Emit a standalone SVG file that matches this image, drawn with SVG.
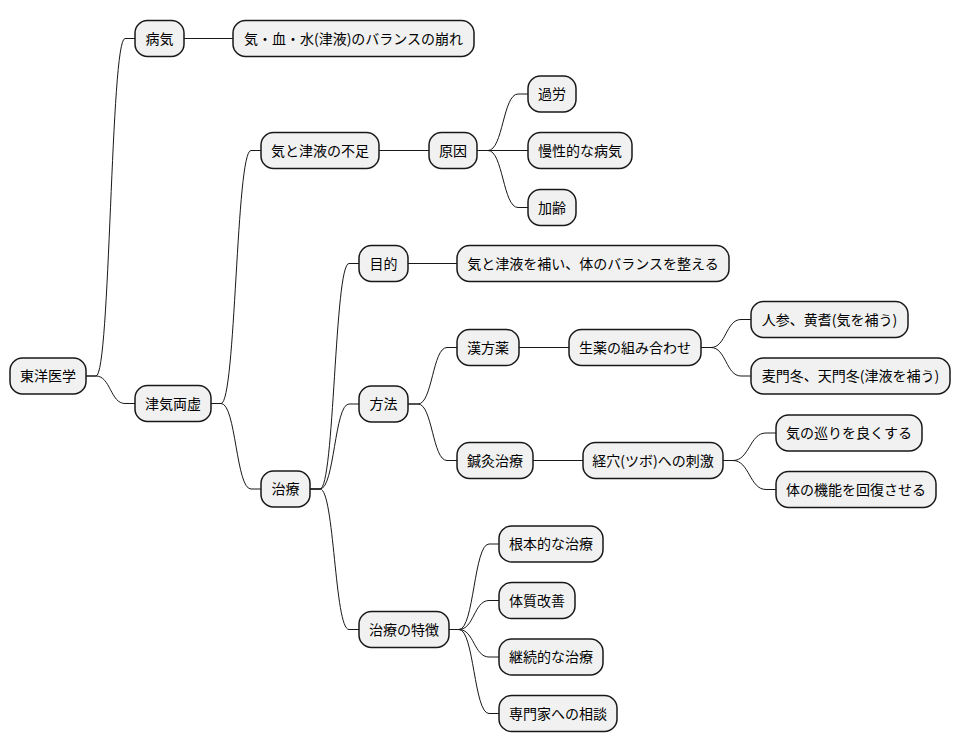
<svg xmlns="http://www.w3.org/2000/svg" width="961" height="752" viewBox="0 0 961 752">
<style>
.n rect{fill:#F1F1F1;stroke:#181818;stroke-width:1.5}
.n text{font-family:"Noto Sans CJK JP","Noto Sans",sans-serif;font-size:14px;fill:#000;text-anchor:middle}
#edges path{fill:none;stroke:#181818;stroke-width:1}
</style>
<rect width="961" height="752" fill="#FFFFFF"/>
<g id="edges">
<path d="M86,376 L96,376 C110.5,376 110.5,38.5 125,38.5 L135,38.5"/>
<path d="M86,376 L96,376 C110.5,376 110.5,403.5 125,403.5 L135,403.5"/>
<path d="M184,38.5 L233,38.5"/>
<path d="M211,403.5 L221,403.5 C236,403.5 236,150.5 251,150.5 L261,150.5"/>
<path d="M211,403.5 L221,403.5 C236,403.5 236,489 251,489 L261,489"/>
<path d="M379,150.5 L429,150.5"/>
<path d="M477,150.5 L488,150.5 C503,150.5 503,94 518,94 L528,94"/>
<path d="M477,150.5 L528,150.5"/>
<path d="M477,150.5 L488,150.5 C503,150.5 503,207.5 518,207.5 L528,207.5"/>
<path d="M310,489 L320,489 C334.5,489 334.5,263.5 349,263.5 L359,263.5"/>
<path d="M310,489 L320,489 C334.5,489 334.5,404 349,404 L359,404"/>
<path d="M310,489 L320,489 C334.5,489 334.5,629.5 349,629.5 L359,629.5"/>
<path d="M408,263.5 L457,263.5"/>
<path d="M408,404 L418,404 C432.5,404 432.5,347.5 447,347.5 L457,347.5"/>
<path d="M408,404 L418,404 C432.5,404 432.5,460.5 447,460.5 L457,460.5"/>
<path d="M519,347.5 L569,347.5"/>
<path d="M533,460.5 L583,460.5"/>
<path d="M701,347.5 L711,347.5 C726,347.5 726,319.5 741,319.5 L751,319.5"/>
<path d="M701,347.5 L711,347.5 C726,347.5 726,376 741,376 L751,376"/>
<path d="M723,460.5 L733,460.5 C749.5,460.5 749.5,433 766,433 L776,433"/>
<path d="M723,460.5 L733,460.5 C749.5,460.5 749.5,489.5 766,489.5 L776,489.5"/>
<path d="M449,629.5 L459,629.5 C474,629.5 474,544 489,544 L499,544"/>
<path d="M449,629.5 L459,629.5 C474,629.5 474,600.5 489,600.5 L499,600.5"/>
<path d="M449,629.5 L459,629.5 C474,629.5 474,657 489,657 L499,657"/>
<path d="M449,629.5 L459,629.5 C474,629.5 474,713.5 489,713.5 L499,713.5"/>
</g>
<g id="n0" class="n"><rect x="10" y="358" width="76" height="36" rx="12.5"/><text x="48" y="381">東洋医学</text></g>
<g id="n1" class="n"><rect x="135" y="20.5" width="49" height="36" rx="12.5"/><text x="159.5" y="43.5">病気</text></g>
<g id="n2" class="n"><rect x="233" y="20.5" width="241" height="36" rx="12.5"/><text x="353.5" y="43.5">気・血・水(津液)のバランスの崩れ</text></g>
<g id="n3" class="n"><rect x="135" y="385.5" width="76" height="36" rx="12.5"/><text x="173" y="408.5">津気両虚</text></g>
<g id="n4" class="n"><rect x="261" y="132.5" width="118" height="36" rx="12.5"/><text x="320" y="155.5">気と津液の不足</text></g>
<g id="n5" class="n"><rect x="429" y="132.5" width="48" height="36" rx="12.5"/><text x="453" y="155.5">原因</text></g>
<g id="n6" class="n"><rect x="528" y="76" width="48" height="36" rx="12.5"/><text x="552" y="99">過労</text></g>
<g id="n7" class="n"><rect x="528" y="132.5" width="104" height="36" rx="12.5"/><text x="580" y="155.5">慢性的な病気</text></g>
<g id="n8" class="n"><rect x="528" y="189.5" width="48" height="36" rx="12.5"/><text x="552" y="212.5">加齢</text></g>
<g id="n9" class="n"><rect x="261" y="471" width="49" height="36" rx="12.5"/><text x="285.5" y="494">治療</text></g>
<g id="n10" class="n"><rect x="359" y="245.5" width="49" height="36" rx="12.5"/><text x="383.5" y="268.5">目的</text></g>
<g id="n11" class="n"><rect x="457" y="245.5" width="272" height="36" rx="12.5"/><text x="593" y="268.5">気と津液を補い、体のバランスを整える</text></g>
<g id="n12" class="n"><rect x="359" y="386" width="49" height="36" rx="12.5"/><text x="383.5" y="409">方法</text></g>
<g id="n13" class="n"><rect x="457" y="329.5" width="62" height="36" rx="12.5"/><text x="488" y="352.5">漢方薬</text></g>
<g id="n14" class="n"><rect x="569" y="329.5" width="132" height="36" rx="12.5"/><text x="635" y="352.5">生薬の組み合わせ</text></g>
<g id="n15" class="n"><rect x="751" y="301.5" width="157" height="36" rx="12.5"/><text x="829.5" y="324.5">人参、黄耆(気を補う)</text></g>
<g id="n16" class="n"><rect x="751" y="358" width="199" height="36" rx="12.5"/><text x="850.5" y="381">麦門冬、天門冬(津液を補う)</text></g>
<g id="n17" class="n"><rect x="457" y="442.5" width="76" height="36" rx="12.5"/><text x="495" y="465.5">鍼灸治療</text></g>
<g id="n18" class="n"><rect x="583" y="442.5" width="140" height="36" rx="12.5"/><text x="653" y="465.5">経穴(ツボ)への刺激</text></g>
<g id="n19" class="n"><rect x="776" y="415" width="146" height="36" rx="12.5"/><text x="849" y="438">気の巡りを良くする</text></g>
<g id="n20" class="n"><rect x="776" y="471.5" width="160" height="36" rx="12.5"/><text x="856" y="494.5">体の機能を回復させる</text></g>
<g id="n21" class="n"><rect x="359" y="611.5" width="90" height="36" rx="12.5"/><text x="404" y="634.5">治療の特徴</text></g>
<g id="n22" class="n"><rect x="499" y="526" width="104" height="36" rx="12.5"/><text x="551" y="549">根本的な治療</text></g>
<g id="n23" class="n"><rect x="499" y="582.5" width="76" height="36" rx="12.5"/><text x="537" y="605.5">体質改善</text></g>
<g id="n24" class="n"><rect x="499" y="639" width="104" height="36" rx="12.5"/><text x="551" y="662">継続的な治療</text></g>
<g id="n25" class="n"><rect x="499" y="695.5" width="118" height="36" rx="12.5"/><text x="558" y="718.5">専門家への相談</text></g>
</svg>
